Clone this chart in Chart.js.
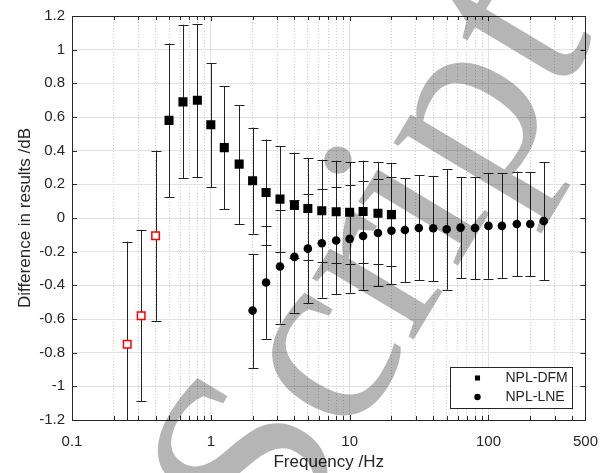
<!DOCTYPE html>
<html>
<head>
<meta charset="utf-8">
<script src="https://cdn.jsdelivr.net/npm/chart.js@4.4.1/dist/chart.umd.min.js"></script>
<style>
  html, body { margin: 0; padding: 0; background: #fff; }
  canvas { display: block; }
</style>
</head>
<body>
<canvas id="chart" width="611" height="473"></canvas>
<script>
// NPL-DFM, 1/3-octave bands from 0.5 Hz (black squares)
const dfmFreq  = [0.5, 0.63, 0.8, 1, 1.25, 1.6, 2, 2.5, 3.15, 4, 5, 6.3, 8, 10, 12.5, 16, 20];
const dfmValue = [0.58, 0.69, 0.70, 0.554, 0.418, 0.32, 0.221, 0.152, 0.112, 0.075, 0.057, 0.043, 0.037, 0.034, 0.039, 0.028, 0.02];
const dfmLow   = [0.122, 0.235, 0.241, 0.183, 0.051, -0.037, -0.093, -0.162, -0.204, -0.239, -0.249, -0.262, -0.268, -0.272, -0.268, -0.276, -0.286];
const dfmHigh  = [1.036, 1.148, 1.152, 0.919, 0.783, 0.67, 0.537, 0.466, 0.428, 0.389, 0.357, 0.347, 0.337, 0.333, 0.341, 0.333, 0.329];

// NPL-DFM lowest bands (red open squares)
const dfmLfFreq  = [0.25, 0.315, 0.4];
const dfmLfValue = [-0.75, -0.58, -0.105];
const dfmLfLow   = [-1.36, -1.087, -0.61];
const dfmLfHigh  = [-0.14, -0.07, 0.40];

// NPL-LNE (black circles)
const lneFreq  = [2, 2.5, 3.15, 4, 5, 6.3, 8, 10, 12.5, 16, 20, 25, 31.5, 40, 50, 63, 80, 100, 125, 160, 200, 250];
const lneValue = [-0.55, -0.383, -0.288, -0.231, -0.182, -0.15, -0.134, -0.124, -0.107, -0.089, -0.076, -0.071, -0.059, -0.061, -0.067, -0.057, -0.059, -0.047, -0.047, -0.036, -0.036, -0.018];
const lneLow   = [-0.89, -0.718, -0.627, -0.562, -0.505, -0.473, -0.452, -0.444, -0.426, -0.406, -0.392, -0.383, -0.369, -0.375, -0.426, -0.359, -0.365, -0.361, -0.355, -0.345, -0.345, -0.369];
const lneHigh  = [-0.215, -0.047, 0.047, 0.107, 0.14, 0.173, 0.187, 0.197, 0.217, 0.231, 0.241, 0.238, 0.254, 0.25, 0.29, 0.244, 0.244, 0.266, 0.266, 0.276, 0.274, 0.331];

const xMajorTicks = [0.1, 1, 10, 100, 500];
const xMinorTicks = [0.2, 0.3, 0.4, 0.5, 0.6, 0.7, 0.8, 0.9, 2, 3, 4, 5, 6, 7, 8, 9,
                     20, 30, 40, 50, 60, 70, 80, 90, 200, 300, 400];
const yTickValues = [-1.2, -1, -0.8, -0.6, -0.4, -0.2, 0, 0.2, 0.4, 0.6, 0.8, 1, 1.2];

const FONT = '"Liberation Sans", Arial, Helvetica, sans-serif';
const TEXT = '#262626';
const isMajor = v => xMajorTicks.some(m => Math.abs(m - v) < 1e-9);
const pts = (xs, ys) => xs.map((x, i) => ({ x: x, y: ys[i] }));

// white page background
const bgPlugin = {
  id: 'bg',
  beforeDraw(chart) {
    const ctx = chart.ctx;
    ctx.save();
    ctx.fillStyle = '#fff';
    ctx.fillRect(0, 0, chart.width, chart.height);
    ctx.restore();
  }
};

// vertical error bars with caps, under the markers
const errorBars = {
  id: 'errorBars',
  beforeDatasetsDraw(chart) {
    const { ctx, chartArea, scales: { x, y } } = chart;
    ctx.save();
    ctx.beginPath();
    ctx.rect(chartArea.left, chartArea.top, chartArea.right - chartArea.left, chartArea.bottom - chartArea.top);
    ctx.clip();
    ctx.strokeStyle = '#222';
    ctx.lineWidth = 1;
    chart.data.datasets.forEach(ds => {
      ds.data.forEach((p, i) => {
        const px = Math.round(x.getPixelForValue(p.x)) + 0.5;
        const lo = y.getPixelForValue(ds.errLow[i]);
        const hi = y.getPixelForValue(ds.errHigh[i]);
        ctx.beginPath();
        ctx.moveTo(px, lo); ctx.lineTo(px, hi);
        ctx.moveTo(px - 5, Math.round(lo) + 0.5); ctx.lineTo(px + 5, Math.round(lo) + 0.5);
        ctx.moveTo(px - 5, Math.round(hi) + 0.5); ctx.lineTo(px + 5, Math.round(hi) + 0.5);
        ctx.stroke();
      });
    });
    ctx.restore();
  }
};

// box around the axes with inward tick marks
const frame = {
  id: 'frame',
  afterDatasetsDraw(chart) {
    const { ctx, chartArea: a, scales: { x, y } } = chart;
    ctx.save();
    ctx.strokeStyle = TEXT;
    ctx.lineWidth = 1;
    ctx.beginPath();
    x.ticks.forEach(t => {
      const px = Math.round(x.getPixelForValue(t.value)) + 0.5;
      const len = isMajor(t.value) ? 5 : 4;
      ctx.moveTo(px, a.bottom); ctx.lineTo(px, a.bottom - len);
      ctx.moveTo(px, a.top); ctx.lineTo(px, a.top + len);
    });
    y.ticks.forEach(t => {
      const py = Math.round(y.getPixelForValue(t.value)) + 0.5;
      ctx.moveTo(a.left, py); ctx.lineTo(a.left + 5, py);
      ctx.moveTo(a.right, py); ctx.lineTo(a.right - 5, py);
    });
    ctx.stroke();
    ctx.strokeRect(Math.round(a.left) + 0.5, Math.round(a.top) + 0.5,
                   Math.round(a.right - a.left), Math.round(a.bottom - a.top));
    ctx.restore();
  }
};

// legend box in the lower right corner of the axes
const boxLegend = {
  id: 'boxLegend',
  afterDraw(chart) {
    const ctx = chart.ctx;
    const a = chart.chartArea;
    const bx = a.right - 13, by = a.bottom - 12;
    const w = 122, h = 41;
    ctx.save();
    ctx.fillStyle = '#fff';
    ctx.fillRect(bx - w, by - h, w, h);
    ctx.strokeStyle = TEXT;
    ctx.lineWidth = 1;
    ctx.strokeRect(Math.round(bx - w) + 0.5, Math.round(by - h) + 0.5, w, h);
    const shown = chart.data.datasets.filter(d => !d.hideInLegend);
    shown.forEach((ds, i) => {
      const cy = by - h + 11 + i * 19;
      ctx.fillStyle = '#000';
      Chart.helpers.drawPoint(ctx, {
        pointStyle: ds.pointStyle,
        radius: ds.pointStyle === 'rect' ? 3.6 : 3.2,
        rotation: 0,
        borderWidth: 0
      }, bx - w + 27, cy);
      ctx.fillStyle = TEXT;
      ctx.font = '14px ' + FONT;
      ctx.textBaseline = 'middle';
      ctx.textAlign = 'left';
      ctx.fillText(ds.label, bx - w + 55, cy);
    });
    ctx.restore();
  }
};

// grey "Script" watermark laid over the figure
const watermark = {
  id: 'watermark',
  afterDraw(chart) {
    const ctx = chart.ctx;
    ctx.save();
    ctx.globalCompositeOperation = 'multiply';
    ctx.fillStyle = 'rgb(181,181,181)';
    ctx.font = '258px "Liberation Serif", "Times New Roman", serif';
    ctx.translate(278, 565);
    ctx.rotate(-59 * Math.PI / 180);
    ctx.fillText('Script', 0, 0);
    ctx.restore();
  }
};

new Chart(document.getElementById('chart'), {
  type: 'scatter',
  data: {
    datasets: [
      {
        label: 'NPL-DFM',
        data: pts(dfmFreq, dfmValue),
        errLow: dfmLow, errHigh: dfmHigh,
        pointStyle: 'rect', pointRadius: 6.4, pointBorderWidth: 0,
        backgroundColor: '#000', borderColor: '#000'
      },
      {
        label: 'NPL-LNE',
        data: pts(lneFreq, lneValue),
        errLow: lneLow, errHigh: lneHigh,
        pointStyle: 'circle', pointRadius: 4.3, pointBorderWidth: 0,
        backgroundColor: '#000', borderColor: '#000'
      },
      {
        label: 'NPL-DFM (low)',
        hideInLegend: true,
        data: pts(dfmLfFreq, dfmLfValue),
        errLow: dfmLfLow, errHigh: dfmLfHigh,
        pointStyle: 'rect', pointRadius: 5.3, pointBorderWidth: 1.5,
        backgroundColor: '#fff', borderColor: '#ff0000'
      }
    ]
  },
  options: {
    responsive: false,
    animation: false,
    events: [],
    layout: { padding: { top: 15, right: 24, left: 0, bottom: 0 } },
    plugins: {
      legend: { display: false },
      tooltip: { enabled: false }
    },
    scales: {
      x: {
        type: 'logarithmic',
        min: 0.1,
        max: 500,
        afterBuildTicks: s => {
          s.ticks = xMajorTicks.concat(xMinorTicks).sort((p, q) => p - q)
            .map(v => ({ value: v, major: isMajor(v) }));
        },
        afterFit: s => { s.height = 53; },
        ticks: {
          autoSkip: false,
          maxRotation: 0,
          padding: 13,
          color: TEXT,
          font: { family: FONT, size: 15 },
          callback: v => isMajor(v) ? String(v) : ''
        },
        grid: {
          drawTicks: false,
          lineWidth: 1,
          color: c => (c.tick && isMajor(c.tick.value)) ? '#e2e2e2' : '#cdcdcd'
        },
        border: {
          display: false,
          dash: c => (c.tick && !isMajor(c.tick.value)) ? [1, 2] : []
        },
        title: {
          display: true,
          text: 'Frequency /Hz',
          color: TEXT,
          font: { family: FONT, size: 17 },
          padding: { top: 0, bottom: 0 }
        }
      },
      y: {
        type: 'linear',
        min: -1.2,
        max: 1.2,
        afterBuildTicks: s => { s.ticks = yTickValues.map(v => ({ value: v })); },
        afterFit: s => { s.width = 72; },
        ticks: {
          padding: 7,
          color: TEXT,
          font: { family: FONT, size: 15 },
          callback: v => String(Math.round(v * 10) / 10)
        },
        grid: { drawTicks: false, lineWidth: 1, color: '#e2e2e2' },
        border: { display: false },
        title: {
          display: true,
          text: 'Difference in results /dB',
          color: TEXT,
          font: { family: FONT, size: 17 },
          padding: { top: 15, bottom: 0 }
        }
      }
    }
  },
  plugins: [bgPlugin, errorBars, frame, boxLegend, watermark]
});
</script>
</body>
</html>
